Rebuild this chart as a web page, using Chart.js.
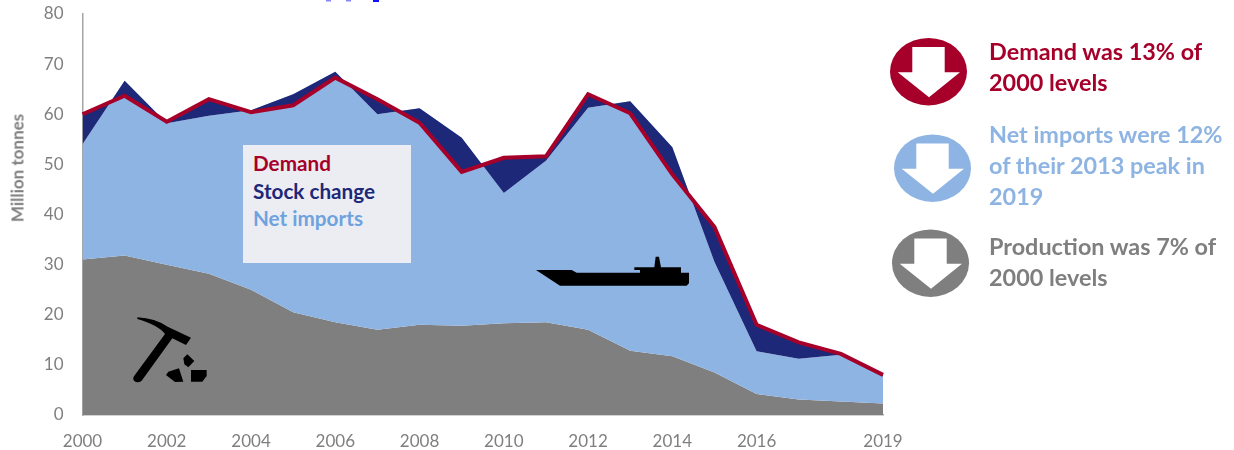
<!DOCTYPE html>
<html>
<head>
<meta charset="utf-8">
<script src="https://cdn.jsdelivr.net/npm/chart.js@4"></script>
<style>
html,body{margin:0;padding:0;background:#fff;overflow:hidden}
#wrap{position:relative;width:1234px;height:450px;font-family:Lato,sans-serif}
#wrap canvas{position:absolute;left:0;top:0}
.t{position:absolute;font-weight:700;white-space:nowrap}
.note{font-size:23.4px;line-height:31px;left:989px}
.key{font-size:20.7px;left:253px;line-height:27px}
svg{position:absolute;left:0;top:0;pointer-events:none}
</style>
</head>
<body>
<div id="wrap">
<canvas id="c" width="1234" height="450"></canvas>
<svg width="1234" height="450" viewBox="0 0 1234 450">
  <rect x="243" y="145" width="168" height="118" fill="#ECEDF2"/>
  <rect x="326" y="0" width="5" height="1.5" fill="#8585FF"/>
  <rect x="346" y="0" width="5" height="1.5" fill="#8585FF"/>
  <rect x="373" y="0" width="6" height="2" fill="#1010FF"/>
  <g transform="translate(525 250) scale(.3333)" fill="#000">
    <path d="M33 60H140L155 68H345V60H328V52H388L392 20H402L408 52H468V68H492V100L485 107H105Z"/>
  </g>
  <g transform="translate(125 310) scale(.3333)" fill="#000">
    <path d="M37 22Q90 25 128 50L198 83L183 105L142 85L50 212Q38 222 27 212Q22 205 28 197L120 72Q100 45 37 27Z"/>
    <path d="M175 145L187 133L208 153L190 172L178 163Z"/>
    <path d="M123 195L130 185L162 175L175 215L150 216Z"/>
    <path d="M198 180H245V198L232 215H198Z"/>
  </g>
  <defs>
    <g id="arrow"><path d="M22.3 9H54.7V34.3H70L39 59.3L7.7 34.3H22.3Z" fill="#fff"/></g>
  </defs>
  <g transform="translate(890 38)"><ellipse cx="38.5" cy="33.7" rx="38.5" ry="33.7" fill="#A6002A"/><use href="#arrow"/></g>
  <g transform="translate(894 134.500)"><ellipse cx="38.5" cy="33.7" rx="38.5" ry="33.7" fill="#8EB4E3"/><use href="#arrow"/></g>
  <g transform="translate(892 229.500)"><ellipse cx="38.5" cy="33.7" rx="38.5" ry="33.7" fill="#7F7F7F"/><use href="#arrow"/></g>
</svg>
<div class="t key" style="top:150px;color:#A6002A">Demand</div>
<div class="t key" style="top:178px;color:#1D2878">Stock change</div>
<div class="t key" style="top:205px;color:#6EA3E0">Net imports</div>
<div class="t note" style="top:36px;color:#A6002A">Demand was 13% of<br>2000 levels</div>
<div class="t note" style="top:119px;color:#8EB4E3">Net imports were 12%<br>of their 2013 peak in<br>2019</div>
<div class="t note" style="top:231px;color:#7F7F7F">Production was 7% of<br>2000 levels</div>
<div class="t" style="font-size:17px;color:#7F7F7F;left:17px;top:168px;transform:translate(-50%,-50%) rotate(-90deg)">Million tonnes</div>
</div>
<script>
const categories = ["2000","2001","2002","2003","2004","2005","2006","2007","2008","2009","2010","2011","2012","2013","2014","2015","2016","2017","2018","2019"];
const xTickLabels = ["2000","2002","2004","2006","2008","2010","2012","2014","2016","2019"];
const production = [31,31.8,30,28.2,25,20.5,18.5,17,18,17.8,18.3,18.5,17,12.8,11.7,8.5,4.2,3.1,2.7,2.3];
const netImports = [23,34.9,28.2,31.5,35.8,43.5,50,43,43.2,37.5,26,32.2,44.3,49.8,41.7,22,8.5,8.1,9.3,5.5];
const demand = [60,63.7,58.5,63,60.4,61.8,67.3,63,58.3,48.5,51.3,51.6,64,60.2,48,37.5,18,14.5,12.2,8];
const importsTop = production.map((v,i)=>+(v+netImports[i]).toFixed(1));

const AXIS = "#A6A6A6", TICK = "#7F7F7F";
new Chart(document.getElementById("c"), {
  type: "line",
  data: {
    labels: categories,
    datasets: [
      {label:"Demand", data:demand, borderColor:"#A6002A", borderWidth:4, pointRadius:0, tension:0,
       fill:{target:1, above:"#1D2878", below:"#1D2878"}, borderJoinStyle:"miter", clip:false},
      {label:"Net imports", data:importsTop, borderWidth:0, borderColor:"transparent", pointRadius:0, tension:0,
       backgroundColor:"#8EB4E3", fill:2},
      {label:"Production", data:production, borderWidth:0, borderColor:"transparent", pointRadius:0, tension:0,
       backgroundColor:"#7F7F7F", fill:"origin"}
    ]
  },
  options: {
    responsive:false, animation:false,
    layout:{padding:{top:14,right:351,left:0,bottom:0}},
    plugins:{legend:{display:false},tooltip:{enabled:false},title:{display:false}},
    scales:{
      x:{
        offset:false,
        grid:{display:false},
        border:{color:AXIS,width:1.5},
        afterFit(s){s.height=35;},
        ticks:{autoSkip:false,maxRotation:0,minRotation:0,color:TICK,font:{family:"Lato",size:17},padding:8,
          callback(v){const l=this.getLabelForValue(v);return xTickLabels.includes(l)?l:"";}}
      },
      y:{
        min:0,max:80,
        grid:{display:false},
        border:{color:AXIS,width:1.5},
        afterFit(s){s.width=82.5;s.paddingTop=0;s.paddingBottom=0;},
        ticks:{stepSize:10,color:TICK,font:{family:"Lato",size:17},padding:11}
      }
    }
  }
});
</script>
</body>
</html>
